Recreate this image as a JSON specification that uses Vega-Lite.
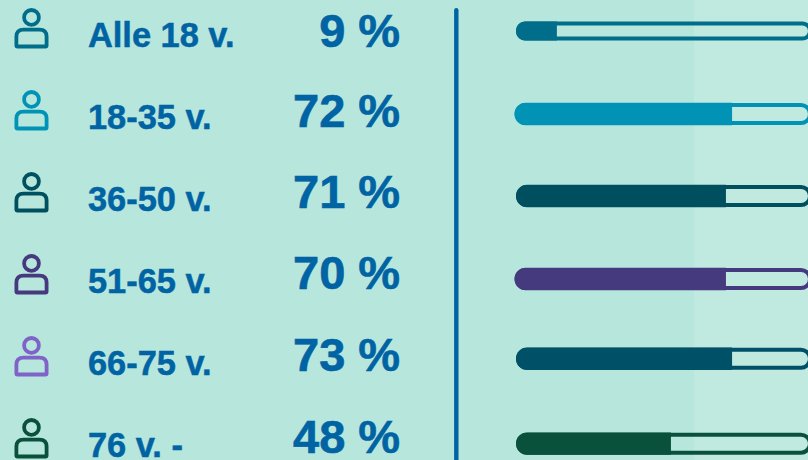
{"$schema":"https://vega.github.io/schema/vega-lite/v6.json","width":808,"height":460,"padding":0,"autosize":{"type":"none"},"background":"#b7e6dc","config":{"view":{"stroke":null}},"datasets":{"rows":[{"row":0,"pct_row":0,"bar_row":0,"group":"Alle 18 v.","icon":"i0","label":"Alle 18 v.","pct":"9 %","start":0,"track_start":0.7,"filled":13.9,"track":100},{"row":1,"pct_row":0.975,"bar_row":1.0,"group":"18-35 v.","icon":"i1","label":"18-35 v.","pct":"72 %","start":-0.5,"track_start":0.2,"filled":73.5,"track":100},{"row":2,"pct_row":1.965,"bar_row":2.0,"group":"36-50 v.","icon":"i2","label":"36-50 v.","pct":"71 %","start":0,"track_start":0.7,"filled":71.4,"track":100},{"row":3,"pct_row":2.955,"bar_row":3.012,"group":"51-65 v.","icon":"i3","label":"51-65 v.","pct":"70 %","start":-0.5,"track_start":0.2,"filled":71.4,"track":100},{"row":4,"pct_row":3.95,"bar_row":3.985,"group":"66-75 v.","icon":"i4","label":"66-75 v.","pct":"73 %","start":0,"track_start":0.7,"filled":73.5,"track":100},{"row":5,"pct_row":4.95,"bar_row":5.02,"group":"76 v. -","icon":"i5","label":"76 v. -","pct":"48 %","start":0,"track_start":0.7,"filled":52.7,"track":100}],"panel":[{"from":60.5,"to":110}],"divider":[{"at":-20.3,"top":-0.45,"bottom":5.1}]},"layer":[{"data":{"name":"panel"},"mark":{"type":"rect","fill":"#c0e9e0"},"encoding":{"x":{"field":"from","type":"quantitative","axis":null,"scale":{"domain":[0,100],"range":[516,810],"zero":false,"nice":false,"padding":0}},"x2":{"field":"to"}}},{"data":{"name":"divider"},"mark":{"type":"rule","stroke":"#0063a3","strokeWidth":4.4,"strokeCap":"round"},"encoding":{"x":{"field":"at","type":"quantitative","axis":null},"y":{"field":"top","type":"quantitative","axis":null,"scale":{"domain":[0,5],"range":[47,457],"zero":false,"nice":false,"padding":0}},"y2":{"field":"bottom"}}},{"data":{"name":"rows"},"mark":{"type":"text","font":"Liberation Sans","fontWeight":"bold","fontSize":34.4,"align":"left","baseline":"alphabetic","fill":"#0063a3","stroke":"#0063a3","strokeWidth":0.5},"encoding":{"x":{"datum":-145.6,"type":"quantitative","axis":null},"y":{"field":"row","type":"quantitative","axis":null},"text":{"field":"label"}}},{"data":{"name":"rows"},"mark":{"type":"text","font":"Liberation Sans","fontWeight":"bold","fontSize":47,"align":"right","baseline":"alphabetic","fill":"#0063a3","stroke":"#0063a3","strokeWidth":0.6},"encoding":{"x":{"datum":-39.4,"type":"quantitative","axis":null},"y":{"field":"pct_row","type":"quantitative","axis":null},"text":{"field":"pct"}}},{"data":{"name":"rows"},"mark":{"type":"point","filled":false,"strokeWidth":3.8,"size":1600,"opacity":1,"yOffset":-18.8,"strokeJoin":"round","shape":"M-0.755,0.86 L-0.755,0.42 Q-0.755,0.07 -0.4,0.07 L0.4,0.07 Q0.755,0.07 0.755,0.42 L0.755,0.86 Q0.755,0.915 0.7,0.915 L-0.7,0.915 Q-0.755,0.915 -0.755,0.86 Z M0.37,-0.54 A0.37,0.37 0 1 1 -0.37,-0.54 A0.37,0.37 0 1 1 0.37,-0.54 Z"},"encoding":{"x":{"datum":-164.8,"type":"quantitative","axis":null},"y":{"field":"row","type":"quantitative","axis":null},"stroke":{"field":"icon","type":"nominal","legend":null,"scale":{"domain":["i0","i1","i2","i3","i4","i5"],"range":["#006e8a","#0093b5","#00505f","#46397f","#7f63c8","#0a513c"]}}}},{"data":{"name":"rows"},"transform":[{"filter":"datum.row > 0"}],"mark":{"type":"bar","orient":"horizontal","size":18,"fill":null,"strokeWidth":4,"cornerRadius":9,"yOffset":-15},"encoding":{"x":{"field":"track_start","type":"quantitative","axis":null},"x2":{"field":"track"},"y":{"field":"bar_row","type":"quantitative","axis":null},"stroke":{"field":"group","type":"nominal","legend":null,"scale":{"domain":["Alle 18 v.","18-35 v.","36-50 v.","51-65 v.","66-75 v.","76 v. -"],"range":["#006e8a","#0093b5","#004f5f","#463a7f","#005068","#0a513c"]}}}},{"data":{"name":"rows"},"transform":[{"filter":"datum.row > 0"}],"mark":{"type":"bar","orient":"horizontal","size":22.4,"cornerRadiusTopLeft":11,"cornerRadiusBottomLeft":11,"yOffset":-15},"encoding":{"x":{"field":"start","type":"quantitative","axis":null},"x2":{"field":"filled"},"y":{"field":"bar_row","type":"quantitative","axis":null},"fill":{"field":"group","type":"nominal","legend":null,"scale":{"domain":["Alle 18 v.","18-35 v.","36-50 v.","51-65 v.","66-75 v.","76 v. -"],"range":["#006e8a","#0093b5","#004f5f","#463a7f","#005068","#0a513c"]}}}},{"data":{"name":"rows"},"transform":[{"filter":"datum.row == 0"}],"mark":{"type":"bar","orient":"horizontal","size":15,"fill":null,"strokeWidth":4,"cornerRadius":8,"yOffset":-16,"stroke":"#006e8a"},"encoding":{"x":{"field":"track_start","type":"quantitative","axis":null},"x2":{"field":"track"},"y":{"field":"bar_row","type":"quantitative","axis":null}}},{"data":{"name":"rows"},"transform":[{"filter":"datum.row == 0"}],"mark":{"type":"bar","orient":"horizontal","size":19,"cornerRadiusTopLeft":9,"cornerRadiusBottomLeft":9,"yOffset":-16,"fill":"#006e8a"},"encoding":{"x":{"field":"start","type":"quantitative","axis":null},"x2":{"field":"filled"},"y":{"field":"bar_row","type":"quantitative","axis":null}}}],"resolve":{"scale":{"fill":"independent","stroke":"independent"}}}
